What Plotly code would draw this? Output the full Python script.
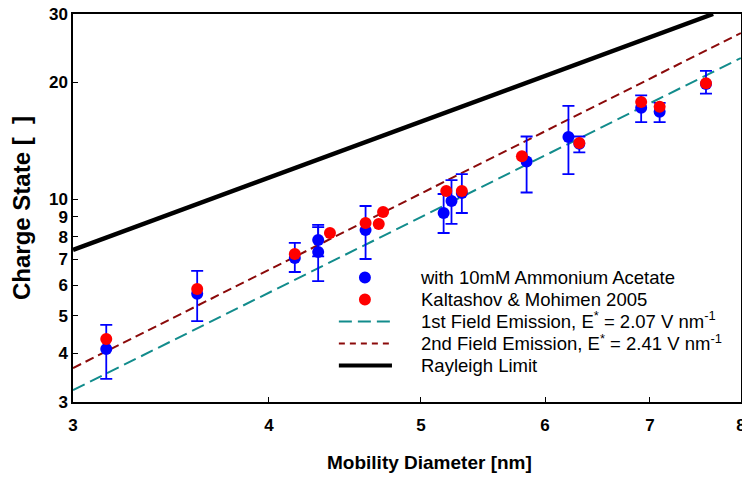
import plotly.graph_objects as go

# ---- data ----
blue_x = [3.15, 3.60, 4.155, 4.30, 4.30, 4.61, 5.17, 5.23, 5.31, 5.84, 6.21, 6.31, 6.91, 7.10, 7.60]
blue_y = [4.11, 5.70, 7.05, 7.85, 7.31, 8.32, 9.21, 9.89, 10.37, 12.5, 14.46, 13.9, 17.2, 16.8, 19.8]
blue_err_plus = [0.63, 0.83, 0.66, 0.73, 1.16, 1.28, 1.10, 1.31, 1.23, 2.0, 2.94, 0.6, 1.3, 0.9, 1.6]
blue_err_minus = [0.67, 0.85, 0.56, 0.73, 1.16, 1.31, 1.03, 1.26, 1.16, 2.1, 2.86, 0.7, 1.4, 1.0, 1.1]

red_x = [3.15, 3.60, 4.155, 4.375, 4.61, 4.70, 4.73, 5.19, 5.31, 5.80, 6.31, 6.91, 7.10, 7.60]
red_y = [4.36, 5.87, 7.22, 8.18, 8.68, 8.63, 9.26, 10.5, 10.5, 12.9, 13.96, 17.8, 17.3, 19.9]

fe1_x = [3.0, 8.0]
fe1_y = [3.22, 23.1]
fe2_x = [3.0, 8.0]
fe2_y = [3.67, 26.8]
rayleigh_x = [3.0, 7.68]
rayleigh_y = [7.4, 30.0]

x_ticks = [3, 4, 5, 6, 7, 8]
y_ticks = [3, 4, 5, 6, 7, 8, 9, 10, 20, 30]

names = ["with 10mM Ammonium Acetate",
         "Kaltashov & Mohimen 2005",
         "1st Field Emission, E<sup>*</sup> = 2.07 V nm<sup>-1</sup>",
         "2nd Field Emission, E<sup>*</sup> = 2.41 V nm<sup>-1</sup>",
         "Rayleigh Limit"]

BLUE = "#0000FF"
RED = "#FF0000"
TEAL = "#128C8C"
DRED = "#8B0A0A"
FONT = "Liberation Sans, Arial, sans-serif"

fig = go.Figure()

# lines
fig.add_trace(go.Scatter(x=fe1_x, y=fe1_y, mode="lines", showlegend=False,
                         line=dict(color=TEAL, width=2, dash="13px,6px")))
fig.add_trace(go.Scatter(x=fe2_x, y=fe2_y, mode="lines", showlegend=False,
                         line=dict(color=DRED, width=2, dash="9px,5px")))
fig.add_trace(go.Scatter(x=rayleigh_x, y=rayleigh_y, mode="lines", showlegend=False,
                         line=dict(color="black", width=4.5)))

# data
fig.add_trace(go.Scatter(x=blue_x, y=blue_y, mode="markers", showlegend=False,
                         marker=dict(color=BLUE, size=12),
                         error_y=dict(type="data", symmetric=False, array=blue_err_plus,
                                      arrayminus=blue_err_minus, color=BLUE,
                                      thickness=1.8, width=6)))
fig.add_trace(go.Scatter(x=red_x, y=red_y, mode="markers", showlegend=False,
                         marker=dict(color=RED, size=12)))

# ---- manual legend (keys as shapes, labels in one annotation block) ----
row_y = [0.3209, 0.2642, 0.2075, 0.1508, 0.0941]
key_x = 0.437
line_x0, line_x1 = 0.398, 0.4775
text_x = 0.5165

shapes = []
for i, col in enumerate([BLUE, RED]):
    shapes.append(dict(type="circle", xref="paper", yref="paper",
                       xsizemode="pixel", ysizemode="pixel",
                       xanchor=key_x, yanchor=row_y[i],
                       x0=-6, x1=6, y0=-6, y1=6,
                       fillcolor=col, line=dict(width=0)))
line_styles = [(TEAL, 2, "13px,6px"), (DRED, 2, "6px,5px"), ("black", 4, "solid")]
for j, (col, w, d) in enumerate(line_styles):
    shapes.append(dict(type="line", xref="paper", yref="paper",
                       x0=line_x0, x1=line_x1, y0=row_y[j + 2], y1=row_y[j + 2],
                       line=dict(color=col, width=w, dash=d)))

legend_text = "<br>".join('<span style="font-size:18.5px">' + nm + "</span>" for nm in names)
annotations = [dict(text=legend_text, xref="paper", yref="paper", x=text_x, y=row_y[2],
                    xanchor="left", yanchor="middle", align="left", showarrow=False,
                    font=dict(family=FONT, size=17, color="black"))]

annotations.append(dict(text="<b>Mobility Diameter [nm]</b>", xref="paper", yref="paper",
                        x=0.534, y=-0.155, xanchor="center", yanchor="middle",
                        showarrow=False,
                        font=dict(family=FONT, size=19, color="black")))

axis_common = dict(type="log", showgrid=False, zeroline=False, showline=True,
                   linecolor="black", linewidth=1.5, mirror=True, automargin=False,
                   ticks="inside", ticklen=5, tickwidth=1.2, tickcolor="black",
                   ticklabeloverflow="allow",
                   tickfont=dict(family=FONT, size=17, color="black", weight="bold"))

fig.update_layout(
    width=742, height=473,
    margin=dict(l=65, r=9, t=6, b=79),
    paper_bgcolor="white", plot_bgcolor="white",
    showlegend=False,
    xaxis=dict(range=[0.4771, 0.90315], tickvals=x_ticks, ticktext=[str(v) for v in x_ticks],
               ticklabelstandoff=7, **axis_common),
    yaxis=dict(range=[0.47712, 1.47715], tickvals=y_ticks, ticktext=[str(v) for v in y_ticks],
               title=dict(text="<b>Charge State [&nbsp;&nbsp;]</b>", standoff=12,
                          font=dict(family=FONT, size=24, color="black")),
               **axis_common),
    font=dict(family=FONT, color="black"),
    shapes=shapes,
    annotations=annotations,
)

fig.write_html("out.html")
